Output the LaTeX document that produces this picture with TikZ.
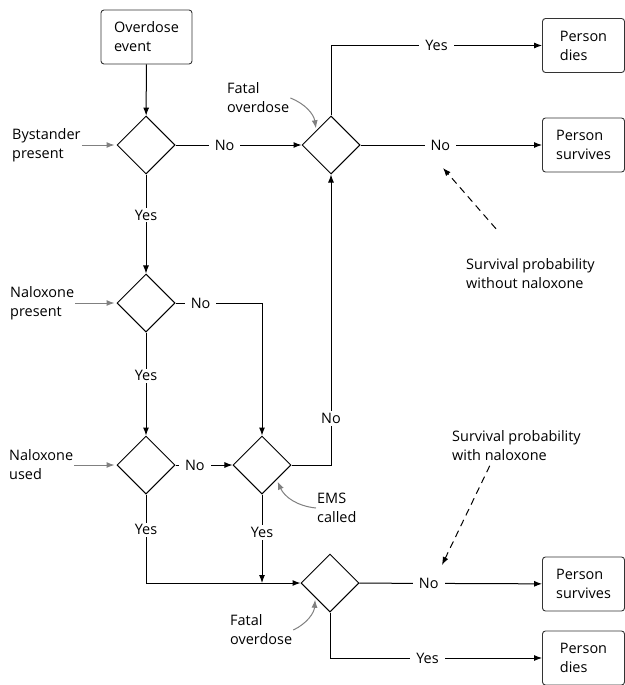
\documentclass[tikz,border=0pt]{standalone}
\usepackage{fontspec}
\setmainfont{Open Sans}
\usetikzlibrary{arrows.meta,positioning,shapes.geometric}

\begin{document}
\begin{tikzpicture}[
    x=1bp,y=-1bp,
    box/.style={draw=black!80, rounded corners=3pt, fill=white, minimum width=82bp, minimum height=54bp, inner sep=2pt, line width=0.9bp, align=left, font=\fontsize{14.5}{19}\selectfont},
    dia/.style={draw=black, shape=diamond, aspect=1, minimum width=58bp, minimum height=58bp, inner sep=0pt, line width=1bp},
    txt/.style={inner sep=1pt, align=left, font=\fontsize{14.5}{19}\selectfont},
    lbl/.style={fill=white, inner xsep=6bp, inner ysep=2bp, font=\fontsize{14.5}{16}\selectfont},
    edge/.style={-{Latex[length=8bp,width=6bp]}, draw=black, line width=1bp},
    note/.style={-{Latex[length=8bp,width=6bp]}, draw=black!50, line width=1bp, shorten >=2bp},
    prob/.style={-{Latex[length=8bp,width=6bp]}, draw=black, line width=1bp, dash pattern=on 7bp off 5bp}
  ]
    \useasboundingbox (0,0) rectangle (625,685);

    \node[box, minimum width=91bp] (start) at (146.5,37) {Overdose\\event};
    \node[dia] (d1) at (146,145) {};
    \node[dia] (d2) at (331,145) {};
    \node[dia] (d3) at (146,303) {};
    \node[dia] (d4) at (146,465) {};
    \node[dia] (d5) at (262,465) {};
    \node[dia] (d6) at (330,583) {};
    \node[box] (dies1) at (583.5,45.5) {Person\\dies};
    \node[box] (surv1) at (583.5,145) {Person\\survives};
    \node[box] (surv2) at (583.5,584) {Person\\survives};
    \node[box] (dies2) at (583.5,658) {Person\\dies};

    \node[txt, anchor=west] (by) at (11,145) {Bystander\\present};
    \node[txt, anchor=west] (np) at (9,303) {Naloxone\\present};
    \node[txt, anchor=west] (nu) at (8,465) {Naloxone\\used};
    \node[txt, anchor=west] (fo1) at (226,98) {Fatal\\overdose};
    \node[txt, anchor=west] (ems) at (316,508) {EMS\\called};
    \node[txt, anchor=west] (fo2) at (229,630) {Fatal\\overdose};
    \node[txt, anchor=west] (sp1) at (465,274) {Survival probability\\without naloxone};
    \node[txt, anchor=west] (sp2) at (451,446) {Survival probability\\with naloxone};
    \coordinate (w1) at (443,168);
    \coordinate (w2) at (442,565);

    \draw[edge] (start) -- (d1);
    \draw[edge] (d1) -- node[lbl,pos=0.39]{No} (d2);
    \draw[edge] (d2.north) |- node[lbl,pos=0.75]{Yes} (dies1.west);
    \draw[edge] (d2) -- node[lbl,pos=0.44]{No} (surv1);
    \draw[edge] (d1) -- node[lbl,pos=0.41]{Yes} (d3);
    \draw[edge] (d3.east) -| node[lbl,pos=0.145]{No} (d5.north);
    \draw[edge] (d3) -- node[lbl,pos=0.42]{Yes} (d4);
    \draw[edge] (d4) -- node[lbl,pos=0.34]{No} (d5);
    \draw[edge] (d5.east) -| node[lbl,pos=0.58]{No} (d2.south);
    \draw[edge] (d4.south) |- node[lbl,pos=0.2]{Yes} (d6.west);
    \draw[edge] (d5.south) -- node[lbl,pos=0.43]{Yes} (d5.south |- d6.west);
    \draw[edge] (d6) -- node[lbl,pos=0.38]{No} (surv2);
    \draw[edge] (d6.south) |- node[lbl,pos=0.73]{Yes} (dies2.west);

    % side notes
    \draw[note] (by.east) -- (d1.west);
    \draw[note] (np.east) -- (d3.west);
    \draw[note] (nu.east) -- (d4.west);
    \draw[note] (fo1.east) to[bend left=30] (d2.north west);
    \draw[note] (ems.west) to[bend left=30] (d5.south east);
    \draw[note] (fo2.east) to[bend right=30] (d6.south west);

    \draw[prob] ([xshift=31bp,yshift=29bp]sp1.north west) -- (w1);
    \draw[prob, shorten <=4bp] ([xshift=-25bp]sp2.south) -- (w2);
  \end{tikzpicture}
\end{document}
